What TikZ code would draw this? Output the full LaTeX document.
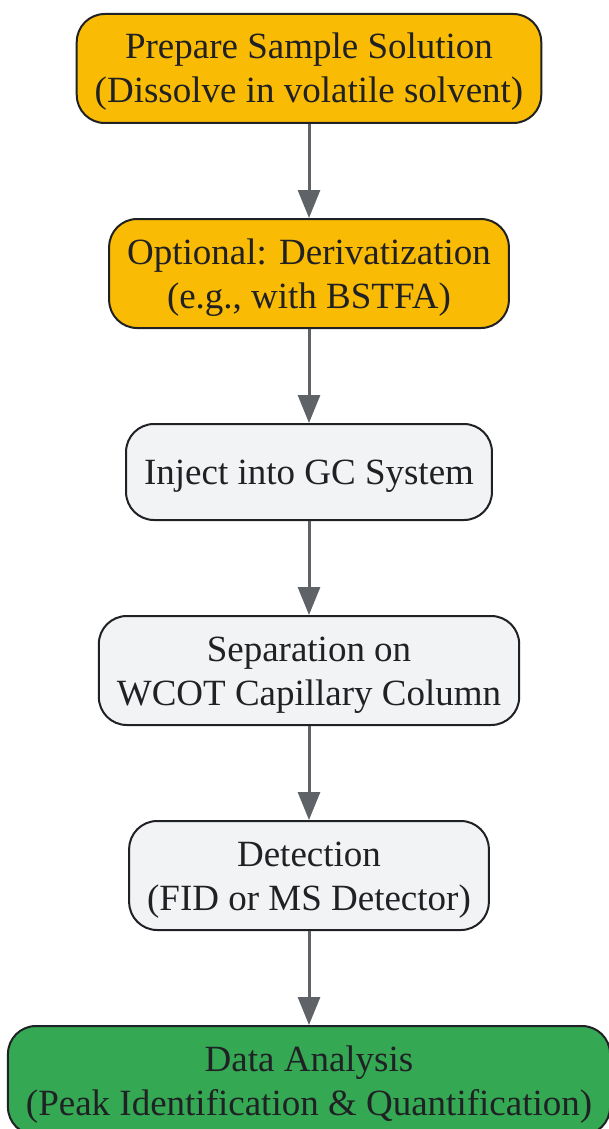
\documentclass[tikz,border=0pt]{standalone}
\usepackage{fontspec}
\setmainfont{Liberation Serif}
\usepackage{tikz}
\usetikzlibrary{
    arrows.meta,
    positioning
}
\definecolor{prepfill}{RGB}{250,187,5}
\definecolor{runfill}{RGB}{241,243,244}
\definecolor{donefill}{RGB}{52,168,83}
\definecolor{inkline}{RGB}{32,33,36}
\definecolor{flowline}{RGB}{95,99,104}
% line box of one text line (ascent + descent)
\newcommand{\ls}{\rule[-9.5pt]{0pt}{44pt}}
\tikzset{
    stagebox/.style={draw=inkline, line width=2pt, rounded corners=28pt,
        text=inkline, align=center, minimum height=96pt,
        inner xsep=18pt, inner ysep=10.5pt,
        execute at end node=\ls,
        font=\fontsize{37}{44}\selectfont},
    flow/.style={-{Triangle[length=28pt,width=22pt]}, line width=3pt, flowline}
}

\begin{document}
\begin{tikzpicture}[x=1pt, y=1pt, node distance=94pt]
    % Canvas
    \useasboundingbox (0,0) rectangle (608,-1129);
    \fill[white] (0,0) rectangle (608,-1129);

    % Stages
    \node[stagebox, fill=prepfill] (prepare) at (309,-68.5)
        {\ls Prepare Sample Solution\\(Dissolve in volatile solvent)};
    \node[stagebox, fill=prepfill, below=of prepare] (deriv)
        {\ls Optional: Derivatization\\(e.g., with BSTFA)};
    \node[stagebox, fill=runfill, below=of deriv] (inject)
        {\ls Inject into GC System};
    \node[stagebox, fill=runfill, below=of inject] (separate)
        {\ls Separation on\\WCOT Capillary Column};
    \node[stagebox, fill=runfill, below=of separate] (detect)
        {\ls Detection\\(FID or MS Detector)};
    \node[stagebox, fill=donefill, below=of detect] (analysis)
        {\ls Data Analysis\\(Peak Identification \& Quantification)};

    % Connectors
    \draw[flow] (prepare) -- (deriv);
    \draw[flow] (deriv) -- (inject);
    \draw[flow] (inject) -- (separate);
    \draw[flow] (separate) -- (detect);
    \draw[flow] (detect) -- (analysis);
\end{tikzpicture}
\end{document}
